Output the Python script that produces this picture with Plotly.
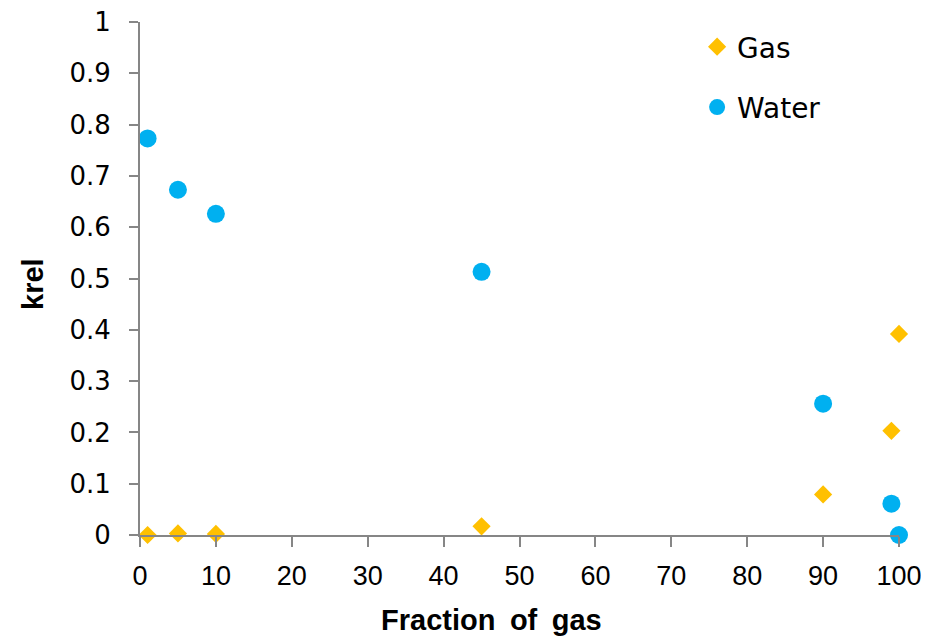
import plotly.graph_objects as go

fraction_gas = [1, 5, 10, 45, 90, 99, 100]
krel_water = [0.773, 0.673, 0.626, 0.513, 0.256, 0.061, 0.0]
krel_gas = [0.0, 0.003, 0.002, 0.017, 0.079, 0.203, 0.392]

x_ticks = [0, 10, 20, 30, 40, 50, 60, 70, 80, 90, 100]
y_ticks = [0, 0.1, 0.2, 0.3, 0.4, 0.5, 0.6, 0.7, 0.8, 0.9, 1]
y_ticktext = ["0", "0.1", "0.2", "0.3", "0.4", "0.5", "0.6", "0.7", "0.8", "0.9", "1"]

x_title = "Fraction\u2002of\u2002gas"
y_title = "krel"

fig = go.Figure()
fig.add_trace(go.Scatter(
    x=fraction_gas, y=krel_gas, mode="markers", name="Gas",
    legendgroup="g1",
    marker=dict(symbol="diamond", size=14, color="#FFC000"),
    cliponaxis=False,
))
fig.add_trace(go.Scatter(
    x=fraction_gas, y=krel_water, mode="markers", name="Water",
    legendgroup="g2",
    marker=dict(symbol="circle", size=18, color="#00B0F0"),
    cliponaxis=False,
))

axis_col = "#868686"
fig.update_layout(
    width=921, height=632,
    margin=dict(l=132, r=30, t=14, b=105),
    plot_bgcolor="white", paper_bgcolor="white",
    showlegend=True,
    legend=dict(
        x=0.734, y=1.0, xanchor="left", yanchor="top",
        font=dict(family="DejaVu Sans", size=28, color="black"),
        traceorder="grouped", tracegroupgap=21,
        bgcolor="rgba(0,0,0,0)", itemwidth=30,
    ),
    xaxis=dict(
        range=[0, 100], tickvals=x_ticks, automargin=False,
        showgrid=False, zeroline=False,
        showline=True, linecolor=axis_col, linewidth=2,
        ticks="outside", ticklen=10, tickwidth=2, tickcolor=axis_col,
        tickfont=dict(family="Liberation Sans, Arial", size=27, color="black"),
        ticklabelstandoff=6, ticklabeloverflow="allow",
    ),
    yaxis=dict(
        range=[0, 1], tickvals=y_ticks, ticktext=y_ticktext, automargin=False,
        showgrid=False, zeroline=False,
        showline=True, linecolor=axis_col, linewidth=2,
        ticks="outside", ticklen=9, tickwidth=2, tickcolor=axis_col,
        tickfont=dict(family="DejaVu Sans", size=26, color="black"),
        ticklabelstandoff=13, ticklabeloverflow="allow",
    ),
    annotations=[
        dict(text="<b>" + x_title + "</b>", xref="paper", yref="paper",
             x=(490 - 140) / 755, y=-(620 - 535) / 513, xanchor="center", yanchor="middle",
             showarrow=False,
             font=dict(family="Liberation Sans, Arial", size=29, color="black")),
        dict(text="<b>" + y_title + "</b>", xref="paper", yref="paper",
             x=-(140 - 33) / 759, y=(535 - 284) / 513, xanchor="center", yanchor="middle",
             textangle=-90, showarrow=False,
             font=dict(family="Liberation Sans, Arial", size=29, color="black")),
    ],
)

fig.write_html("out.html")
